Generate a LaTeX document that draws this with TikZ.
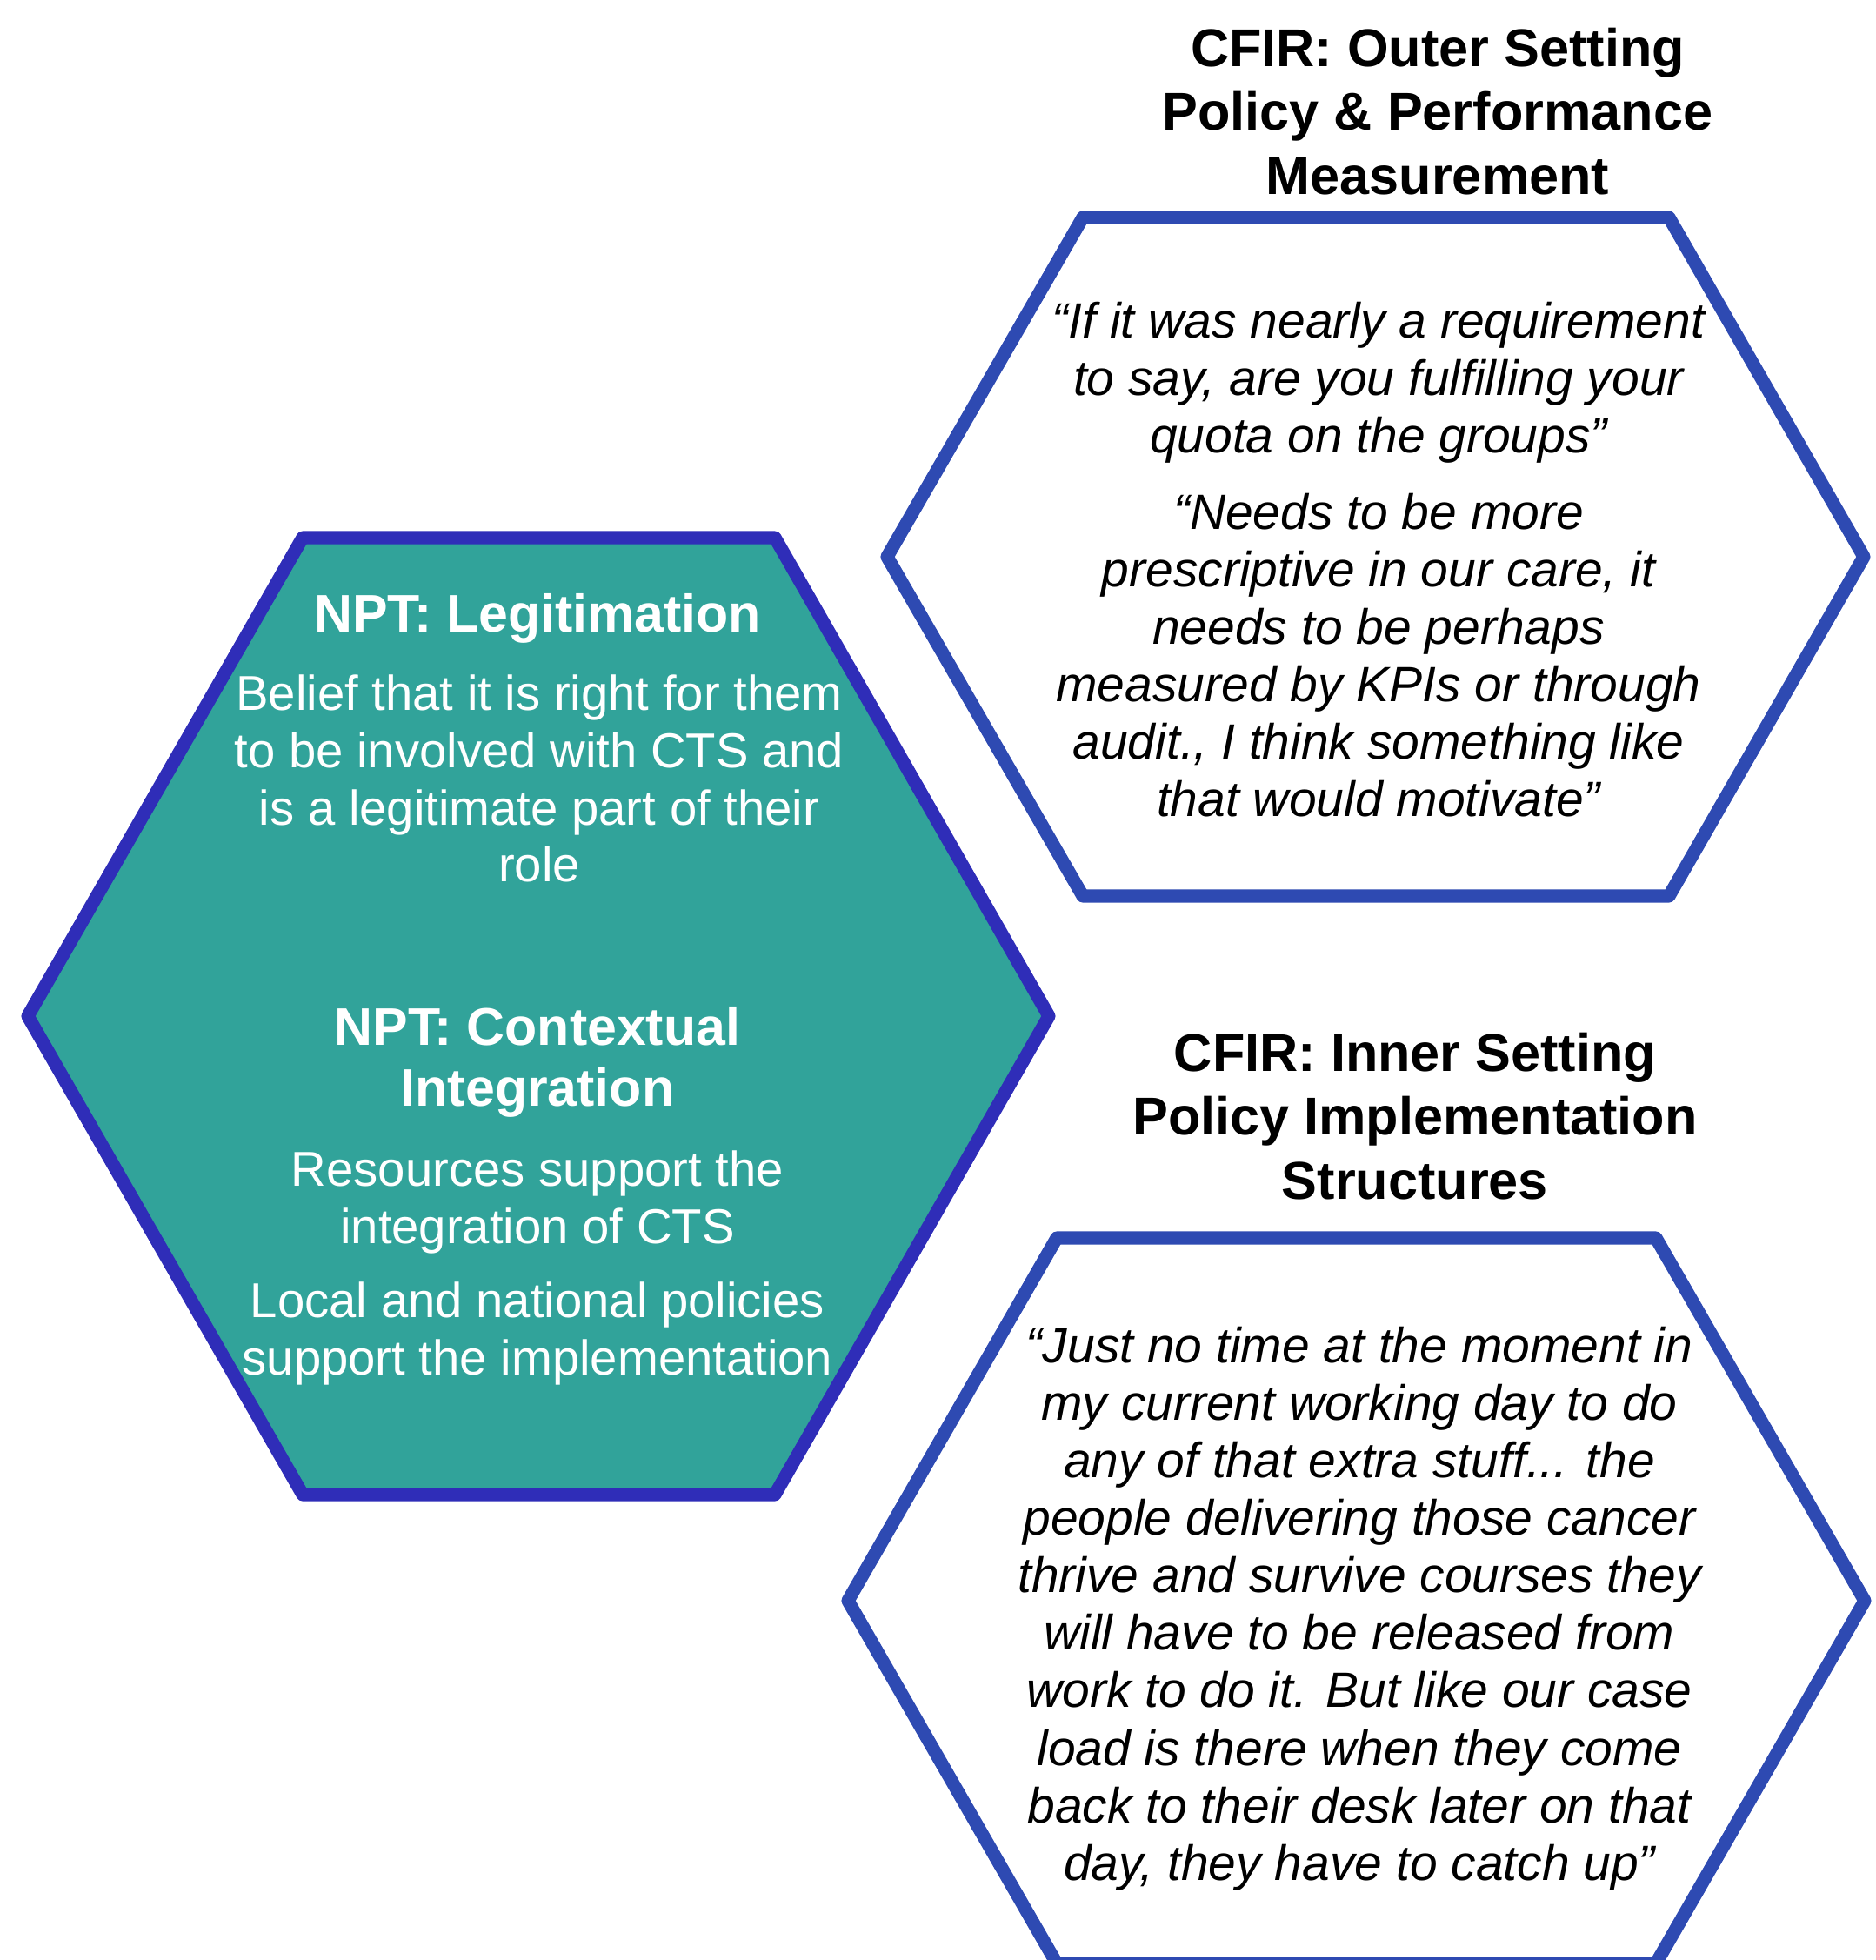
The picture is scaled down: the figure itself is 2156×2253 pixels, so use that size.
\documentclass[tikz,border=0pt]{standalone}
\usepackage{fontspec}
\setmainfont{Liberation Sans}
\definecolor{nptfill}{HTML}{31A39A}
\definecolor{nptline}{HTML}{2F2DB8}
\definecolor{cfirline}{HTML}{2E4AB2}
\tikzset{
hexnpt/.style={draw=nptline,fill=nptfill,line width=4.3pt,line join=round},
hexcfir/.style={draw=cfirline,fill=white,line width=4.3pt,line join=round},
npthead/.style={text=white,font=\fontsize{17.3}{19.8}\selectfont\bfseries,align=center,inner sep=0pt},
nptbody/.style={text=white,font=\fontsize{16}{18.7}\selectfont,align=center,inner sep=0pt},
cfirhead/.style={font=\fontsize{17.4}{20.8}\selectfont\bfseries,align=center,inner sep=0pt},
quotetext/.style={font=\fontsize{16.2}{18.8}\selectfont\itshape,align=center,inner sep=0pt}
}
\begin{document}
\begin{tikzpicture}[x=0.01cm,y=-0.01cm]
\useasboundingbox (0,0) rectangle (2156,2253);
\clip (0,0) rectangle (2156,2253);
\draw[hexnpt] (348,618)--(891,618)--(1206,1168)--(891,1718)--(348,1718)--(32,1168)--cycle;
\draw[hexcfir] (1245,250)--(1919,250)--(2143,640)--(1919,1030)--(1245,1030)--(1020,640)--cycle;
\draw[hexcfir] (1215,1423)--(1904,1423)--(2144,1840)--(1904,2257)--(1215,2257)--(975,1840)--cycle;
\node[npthead] (legithead) at(618,711){NPT: Legitimation};
\node[nptbody] (legitbody) at(620,895){Belief that it is right for them\\to be involved with CTS and\\is a legitimate part of their\\role};
\node[npthead] (integhead) at(618,1221){NPT: Contextual\\Integration};
\node[nptbody] (integres) at(618,1382){Resources support the\\integration of CTS};
\node[nptbody] (integpol) at(618,1533){Local and national policies\\support the implementation};
\node[cfirhead] (outerhead) at(1653,128){CFIR: Outer Setting\\Policy \& Performance\\Measurement};
\node[quotetext] (outerquoteA) at(1585,440){“If it was nearly a requirement\\to say, are you fulfilling your\\quota on the groups”};
\node[quotetext] (outerquoteB) at(1585,753){“Needs to be more\\prescriptive in our care, it\\needs to be perhaps\\measured by KPIs or through\\audit., I think something like\\that would motivate”};
\node[cfirhead] (innerhead) at(1627,1283){CFIR: Inner Setting\\Policy Implementation\\Structures};
\node[quotetext] (innerquote) at(1563,1849){“Just no time at the moment in\\my current working day to do\\any of that extra stuff... the\\people delivering those cancer\\thrive and survive courses they\\will have to be released from\\work to do it. But like our case\\load is there when they come\\back to their desk later on that\\day, they have to catch up”};
\end{tikzpicture}
\end{document}
